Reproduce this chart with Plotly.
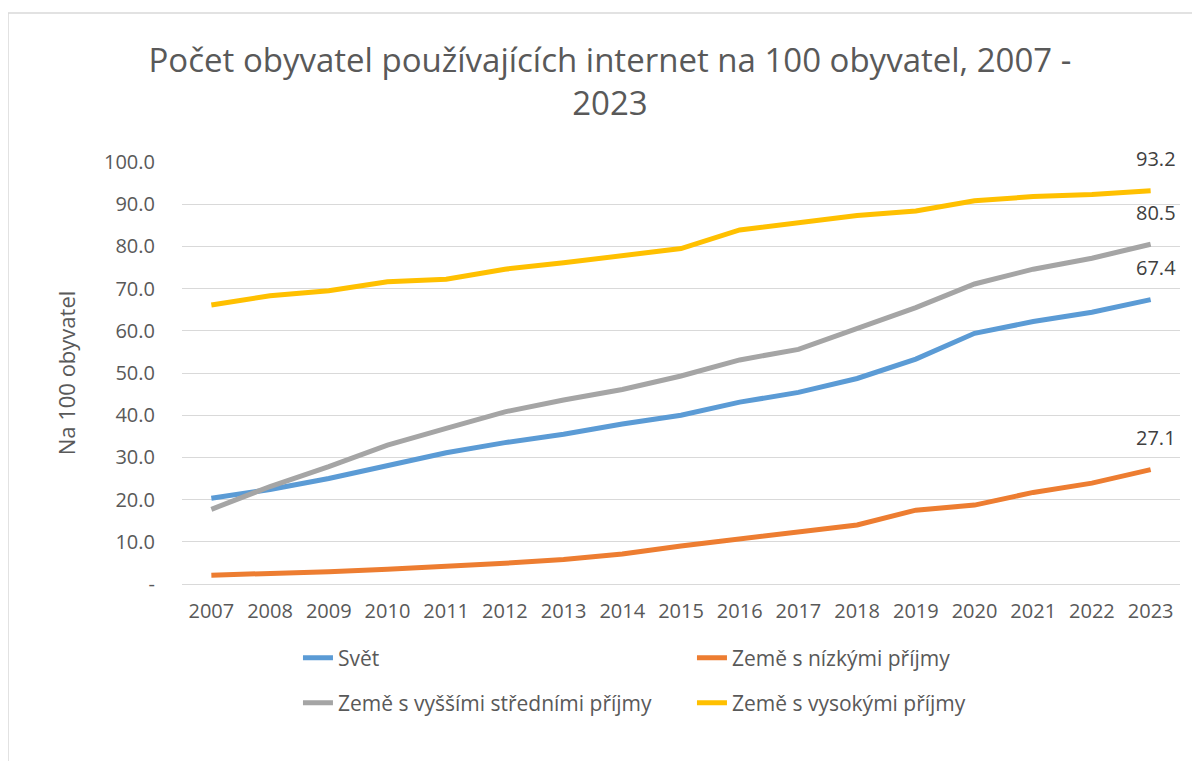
import plotly.graph_objects as go

years = [str(y) for y in range(2007, 2024)]

svet = [20.3, 22.4, 25.0, 28.2, 31.1, 33.5, 35.5, 37.9, 40.0, 43.1, 45.4, 48.7, 53.3, 59.4, 62.2, 64.4, 67.4]
nizke = [2.1, 2.4, 2.9, 3.5, 4.1, 4.9, 5.8, 7.1, 9.0, 10.6, 12.2, 14.0, 17.5, 18.7, 21.7, 23.9, 27.1]
vyssi_stredni = [17.7, 23.1, 27.8, 32.9, 36.9, 40.8, 43.6, 46.1, 49.3, 53.1, 55.6, 60.6, 65.5, 71.1, 74.6, 77.2, 80.5]
vysoke = [66.1, 68.3, 69.5, 71.6, 72.2, 74.6, 76.1, 77.9, 79.5, 83.9, 85.6, 87.3, 88.4, 90.8, 91.8, 92.3, 93.2]

y_ticks = [0, 10, 20, 30, 40, 50, 60, 70, 80, 90, 100]
y_ticktext = ["-", "10.0", "20.0", "30.0", "40.0", "50.0", "60.0", "70.0", "80.0", "90.0", "100.0"]

FONT = "Open Sans"
GREY = "#595959"

series = [
    ("Svět", svet, "#5b9bd5", "legend"),
    ("Země s nízkými příjmy", nizke, "#ed7d31", "legend"),
    ("Země s vyššími středními příjmy", vyssi_stredni, "#a5a5a5", "legend2"),
    ("Země s vysokými příjmy", vysoke, "#ffc000", "legend2"),
]

fig = go.Figure()
last = len(years) - 1
for name, vals, color, leg in series:
    fig.add_trace(go.Scatter(
        x=years, y=vals, name=name, mode="lines",
        line=dict(color=color, width=5),
        legend=leg,
    ))
    # value label above the final point (category index of last year)
    fig.add_annotation(
        x=last, y=vals[last], text=f"{vals[last]:.1f}",
        showarrow=False, yshift=32, xshift=5,
        font=dict(family=FONT, size=20, color="#404040"),
    )

# chart border (top and left edges visible)
fig.add_shape(type="rect", xref="paper", yref="paper",
              x0=-174 / 998, x1=1.2, y0=-0.6, y1=571 / 422,
              line=dict(color="#d9d9d9", width=1.5), layer="below")

legend_style = dict(
    orientation="h", xanchor="left", yanchor="middle",
    entrywidth=349, entrywidthmode="pixels",
    font=dict(family=FONT, size=21, color=GREY),
    bgcolor="rgba(0,0,0,0)",
)

fig.update_layout(
    width=1192, height=753,
    margin=dict(l=174, r=20, t=154, b=177),
    plot_bgcolor="white", paper_bgcolor="white",
    font=dict(family=FONT, color=GREY),
    title=dict(
        text="Počet obyvatel používajících internet na 100 obyvatel, 2007 -<br>2023",
        x=0.505, xanchor="center", y=0.915, yanchor="middle",
        font=dict(family=FONT, size=33, color=GREY),
    ),
    xaxis=dict(
        type="category", range=[-0.5, 16.5],
        showgrid=False, showline=True, linecolor="#d9d9d9", linewidth=1.3,
        ticks="", ticklabelstandoff=9,
        tickfont=dict(family=FONT, size=20, color=GREY),
    ),
    yaxis=dict(
        range=[0, 100], tickvals=y_ticks, ticktext=y_ticktext,
        showgrid=True, gridcolor="#d9d9d9", gridwidth=1.3,
        zeroline=False, showline=False, ticks="", ticklabelstandoff=26,
        tickfont=dict(family=FONT, size=20, color=GREY),
        title=dict(text="Na 100 obyvatel", standoff=22,
                   font=dict(family=FONT, size=22, color=GREY)),
    ),
    legend=dict(x=0.1162, y=-0.1754, **legend_style),
    legend2=dict(x=0.1162, y=-0.282, **legend_style),
    showlegend=True,
)

fig.write_html("out.html")
